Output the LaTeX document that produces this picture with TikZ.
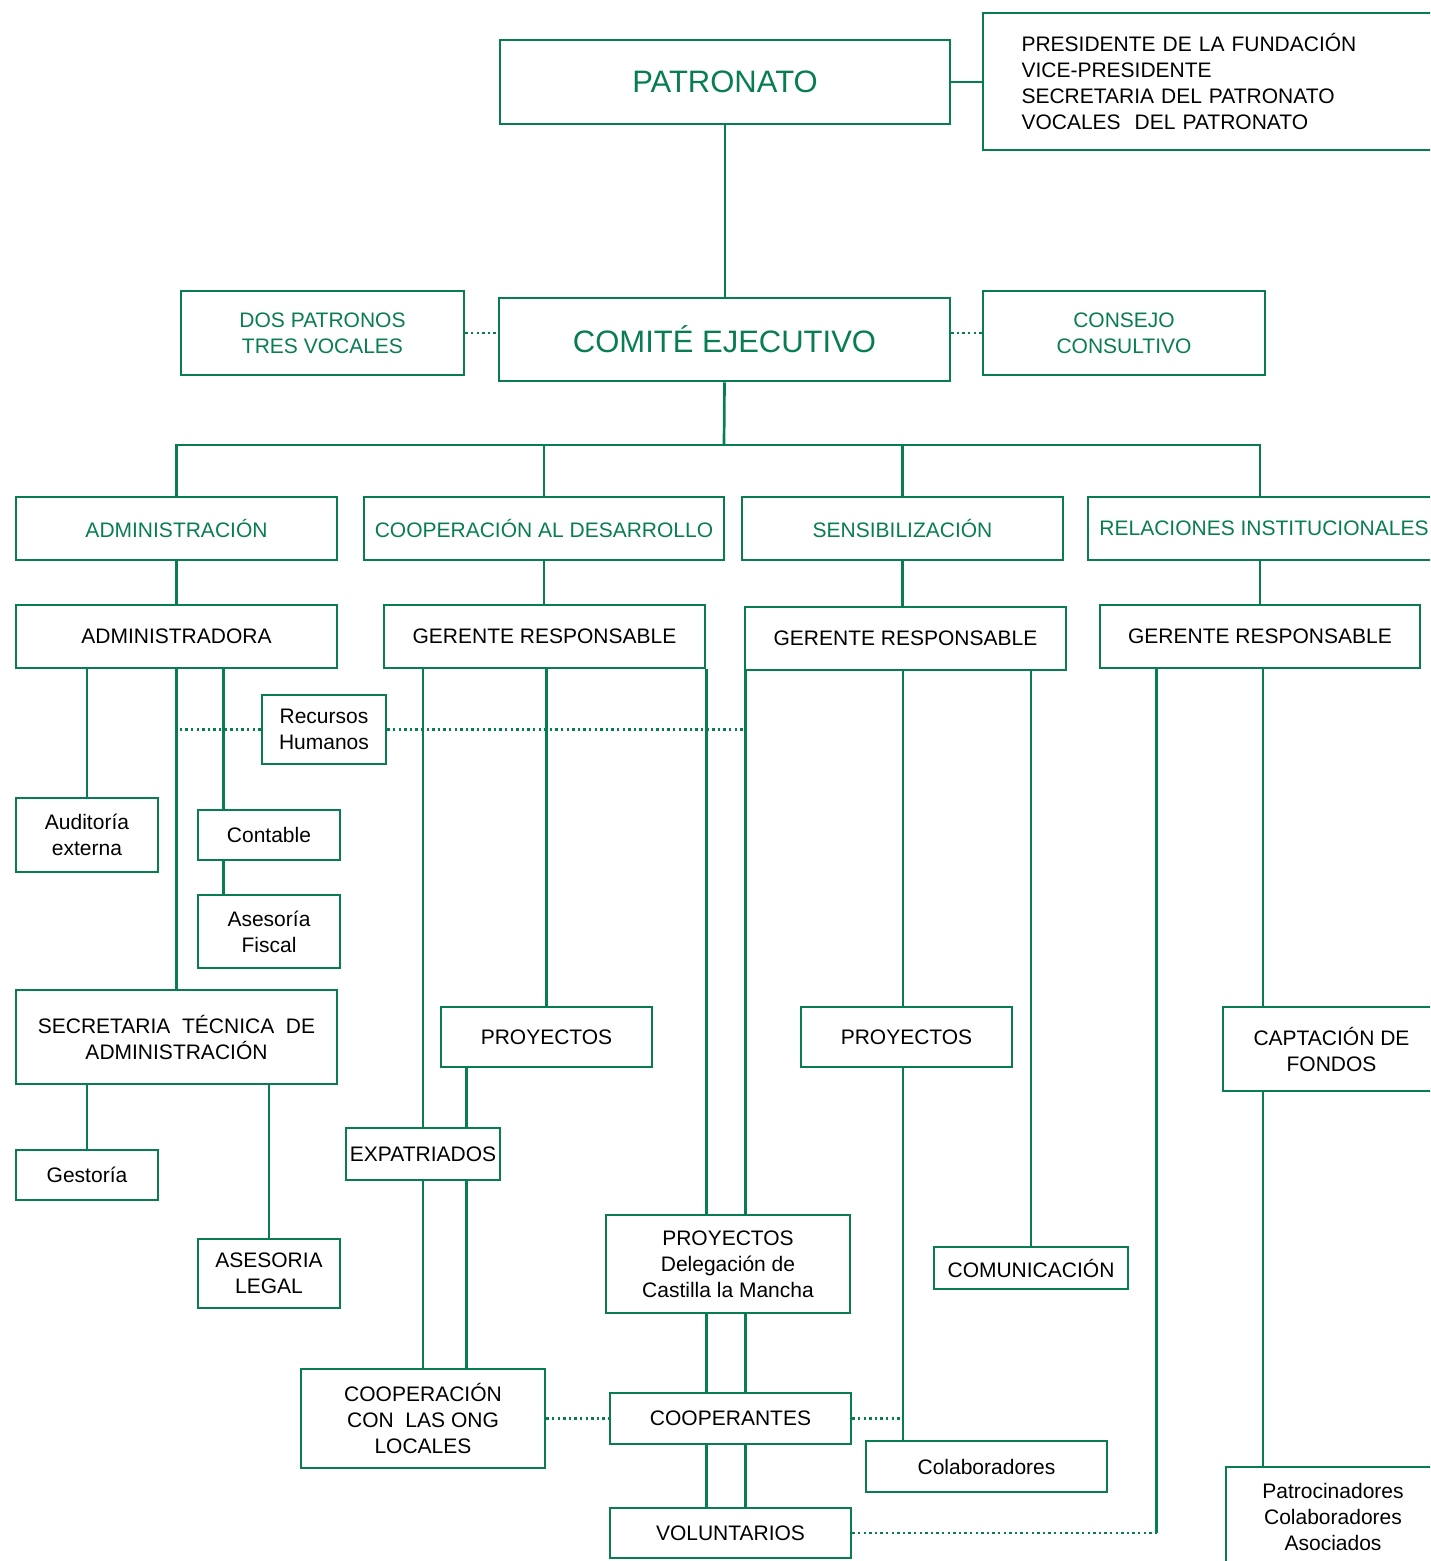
\documentclass[tikz,border=0pt]{standalone}
\usepackage{fontspec}
\setmainfont{Liberation Sans}
\usepackage{tikz}
\definecolor{orggreen}{RGB}{8,125,82}

\begin{document}
\begin{tikzpicture}[x=1pt, y=-1pt]
        \tikzstyle{unit} = [rectangle, draw=orggreen, line width=2.7pt, inner sep=0pt, align=center, font=\fontsize{21}{26}\selectfont]
        \tikzstyle{area} = [unit, text=orggreen]
        \tikzstyle{link} = [draw=orggreen, line width=2.7pt]
        \tikzstyle{tie} = [draw=orggreen, line width=2.4pt, dash pattern=on 2.4pt off 3.2pt]

        \clip (0,0) rectangle (1430,1561);

        % top
        \node [area, font=\fontsize{31}{36}\selectfont, minimum width=450pt, minimum height=84pt] (patronato) at (725,82) {PATRONATO};
        \node [unit, align=left, text width=380pt, minimum width=457pt, minimum height=137pt] (members) at (1211.5,81.5) {PRESIDENTE DE LA FUNDACIÓN\\VICE-PRESIDENTE\\SECRETARIA DEL PATRONATO\\VOCALES\ \ DEL PATRONATO};
        \node [area, font=\fontsize{31}{36}\selectfont, minimum width=451pt, minimum height=83pt] (comite) at (724.5,339.5) {COMITÉ EJECUTIVO};
        \node [area, minimum width=283pt, minimum height=84pt] (dos) at (322.5,333) {DOS PATRONOS\\TRES VOCALES};
        \node [area, minimum width=282pt, minimum height=84pt] (consejo) at (1124,333) {CONSEJO\\CONSULTIVO};

        % areas
        \node [area, minimum width=321pt, minimum height=63pt] (admin) at (176.5,528.5) {ADMINISTRACIÓN};
        \node [area, minimum width=360pt, minimum height=63pt] (coop) at (544,528.5) {COOPERACIÓN AL DESARROLLO};
        \node [area, minimum width=321pt, minimum height=63pt] (sens) at (902.5,528.5) {SENSIBILIZACIÓN};
        \node [area, minimum width=352pt, minimum height=63pt] (rel) at (1264,528.5) {RELACIONES INSTITUCIONALES};

        % managers
        \node [unit, minimum width=321pt, minimum height=63pt] (admr) at (176.5,636.5) {ADMINISTRADORA};
        \node [unit, minimum width=321pt, minimum height=63pt] (gerc) at (544.5,636.5) {GERENTE RESPONSABLE};
        \node [unit, minimum width=321pt, minimum height=63pt] (gers) at (905.5,638.5) {GERENTE RESPONSABLE};
        \node [unit, minimum width=320pt, minimum height=63pt] (gerr) at (1260,636.5) {GERENTE RESPONSABLE};

        % administracion
        \node [unit, minimum width=124pt, minimum height=69pt] (rrhh) at (324,729.5) {Recursos\\Humanos};
        \node [unit, minimum width=142pt, minimum height=74pt] (aud) at (87,835) {Auditoría\\externa};
        \node [unit, minimum width=142pt, minimum height=50pt] (cont) at (269,835) {Contable};
        \node [unit, minimum width=142pt, minimum height=73pt] (fisc) at (269,931.5) {Asesoría\\Fiscal};
        \node [unit, minimum width=321pt, minimum height=94pt] (secr) at (176.5,1037) {SECRETARIA\ \ TÉCNICA\ \ DE\\ADMINISTRACIÓN};
        \node [unit, minimum width=142pt, minimum height=50pt] (gest) at (87,1175) {Gestoría};
        \node [unit, minimum width=142pt, minimum height=69pt] (legal) at (269,1273.5) {ASESORIA\\LEGAL};

        % cooperacion
        \node [unit, minimum width=211pt, minimum height=60pt] (proyc) at (546.5,1037) {PROYECTOS};
        \node [unit, minimum width=154pt, minimum height=52pt] (expat) at (423,1154) {EXPATRIADOS};
        \node [unit, minimum width=244pt, minimum height=99pt] (ong) at (423,1418.5) {COOPERACIÓN\\CON\ \ LAS ONG\\LOCALES};
        \node [unit, minimum width=244pt, minimum height=98pt] (deleg) at (728,1264) {PROYECTOS\\Delegación de\\Castilla la Mancha};
        \node [unit, minimum width=241pt, minimum height=51pt] (coopr) at (730.5,1418.5) {COOPERANTES};
        \node [unit, minimum width=241pt, minimum height=50pt] (volun) at (730.5,1533) {VOLUNTARIOS};

        % sensibilizacion
        \node [unit, minimum width=211pt, minimum height=60pt] (proys) at (906.5,1037) {PROYECTOS};
        \node [unit, minimum width=194pt, minimum height=42pt] (comu) at (1031,1268) {COMUNICACIÓN};
        \node [unit, minimum width=241pt, minimum height=51pt] (colab) at (986.5,1466.5) {Colaboradores};

        % relaciones
        \node [unit, minimum width=217pt, minimum height=84pt] (capt) at (1331.5,1049) {CAPTACIÓN DE\\FONDOS};
        \node [unit, minimum width=214pt, minimum height=100pt] (patro) at (1333,1517) {Patrocinadores\\Colaboradores\\Asociados};

        \coordinate (bus) at (724,445);
        \coordinate (sl) at ([xshift=2pt]gers.south west);
        \coordinate (sm) at ([xshift=-2.5pt]gers.south);
        \coordinate (rl) at ([xshift=58pt]gerr.south west);
        \coordinate (rr) at ([xshift=3pt]gerr.south);
        \coordinate (cl) at ([xshift=27pt]cont.north west);
        \coordinate (pl) at ([xshift=27pt]proyc.south west);

        \path [link] (patronato.east) -- (patronato.east -| members.west);
        \path [link] (patronato.south) -- (patronato.south |- comite.north);
        \path [tie] (dos.east) -- (dos.east -| comite.west);
        \path [tie] (consejo.west) -- (consejo.west -| comite.east);

        \path [link] (comite.south) -- (bus);
        \path [link] (admin.north) |- (gerr.north |- bus) -- (gerr.north |- rel.north);
        \path [link] (coop.north) -- (coop.north |- bus);
        \path [link] (sens.north) -- (sens.north |- bus);

        \path [link] (admin.south) -- (admr.north);
        \path [link] (coop.south) -- (coop.south |- gerc.north);
        \path [link] (sens.south) -- (sens.south |- gers.north);
        \path [link] (rel.south -| gerr.north) -- (gerr.north);

        \path [link] (aud.north) -- (aud.north |- admr.south);
        \path [link] (admr.south) -- (secr.north);
        \path [link] (cl |- admr.south) -- (cl);
        \path [link] (cl |- cont.south) -- (cl |- fisc.north);
        \path [tie] (rrhh.west) -- (rrhh.west -| admr.south);
        \path [tie] (rrhh.east) -- (rrhh.east -| sl);
        \path [link] (gest.north) -- (gest.north |- secr.south);
        \path [link] (legal.north) -- (legal.north |- secr.south);

        \path [link] (expat.north) -- (expat.north |- gerc.south);
        \path [link] (gerc.south -| proyc.north) -- (proyc.north);
        \path [link] (pl) -- (pl |- expat.north);
        \path [link] (expat.south) -- (expat.south |- ong.north);
        \path [link] (pl |- expat.south) -- (pl |- ong.north);
        \path [link] (gerc.south east) -- (gerc.south east |- deleg.north);
        \path [link] (sl) -- (sl |- deleg.north);
        \path [link] (gerc.south east |- deleg.south) -- (gerc.south east |- coopr.north);
        \path [link] (sl |- deleg.south) -- (sl |- coopr.north);
        \path [link] (gerc.south east |- coopr.south) -- (gerc.south east |- volun.north);
        \path [link] (sl |- coopr.south) -- (sl |- volun.north);
        \path [tie] (ong.east) -- (coopr.west);

        \path [link] (sm) -- (sm |- proys.north);
        \path [link] (sm |- proys.south) -- (sm |- colab.north);
        \path [tie] (coopr.east) -- (coopr.east -| sm);
        \path [link] (comu.north) -- (comu.north |- gers.south);

        \path [link] (rl) -- (rl |- volun.east);
        \path [tie] (volun.east) -- (volun.east -| rl);
        \path [link] (rr) -- (rr |- capt.north);
        \path [link] (rr |- capt.south) -- (rr |- patro.north);
    \end{tikzpicture}
\end{document}
